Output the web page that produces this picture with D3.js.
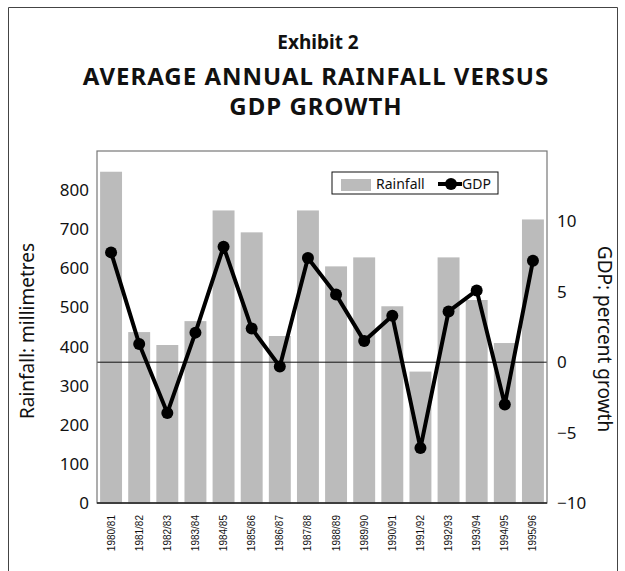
<!DOCTYPE html>
<html>
<head>
<meta charset="utf-8">
<script src="https://cdn.jsdelivr.net/npm/d3@7"></script>
<style>
  body { margin: 0; background: #fff; }
  text { font-family: "Noto Sans", "Open Sans", sans-serif; fill: #111; }
</style>
</head>
<body>
<svg id="chart" width="625" height="571"></svg>
<script>
// chart data
var years = ["1980/81", "1981/82", "1982/83", "1983/84", "1984/85", "1985/86", "1986/87", "1987/88",
    "1988/89", "1989/90", "1990/91", "1991/92", "1992/93", "1993/94", "1994/95", "1995/96"];
var rainfall = [847, 437, 404, 465, 748, 692, 427, 748, 605, 628, 503, 336, 628, 519, 409, 725];
var gdp = [7.8, 1.3, -3.6, 2.1, 8.2, 2.4, -0.3, 7.4, 4.8, 1.5, 3.3, -6.1, 3.6, 5.1, -3.0, 7.2];
var rainTicks = [0, 100, 200, 300, 400, 500, 600, 700, 800];
var gdpTicks = [-10, -5, 0, 5, 10];

var svg = d3.select("#chart");
// plot area edges (window.top is taken, so plotTop etc.)
var plotLeft = 97, plotRight = 547, plotTop = 151, plotBottom = 503;

// outer frame
svg.append("path")
    .attr("d", "M8.5,580 V7.5 H617.5 V580")
    .attr("fill", "none").attr("stroke", "#444").attr("stroke-width", 1);

// titles
svg.append("text").attr("x", 318).attr("y", 49).attr("text-anchor", "middle")
    .style("font-size", "19px").style("font-weight", "bold").text("Exhibit 2");
svg.append("text").attr("x", 316).attr("y", 85).attr("text-anchor", "middle")
    .style("font-size", "24px").style("font-weight", "bold").style("letter-spacing", "1px")
    .text("AVERAGE ANNUAL RAINFALL VERSUS");
svg.append("text").attr("x", 316).attr("y", 115).attr("text-anchor", "middle")
    .style("font-size", "24px").style("font-weight", "bold").style("letter-spacing", "1px")
    .text("GDP GROWTH");

// scales
var x = d3.scaleBand().domain(years).range([plotLeft, plotRight]).paddingInner(0.22).paddingOuter(0.11);
var yRain = d3.scaleLinear().domain([0, 900]).range([plotBottom, plotTop]);
var yGdp = d3.scaleLinear().domain([-10, 15]).range([plotBottom, plotTop]);

// bars
svg.selectAll(".bar").data(rainfall).enter().append("rect")
    .attr("class", "bar")
    .attr("x", (d, i) => x(years[i]))
    .attr("width", x.bandwidth())
    .attr("y", d => yRain(d))
    .attr("height", d => yRain(0) - yRain(d) + 1)
    .attr("fill", "#bbbbbb");

// zero line for gdp
svg.append("line")
    .attr("x1", plotLeft).attr("x2", plotRight)
    .attr("y1", yGdp(0)).attr("y2", yGdp(0))
    .attr("stroke", "#111").attr("stroke-width", 1);

// plot frame
svg.append("rect")
    .attr("x", plotLeft).attr("y", plotTop).attr("width", plotRight - plotLeft).attr("height", plotBottom - plotTop)
    .attr("fill", "none").attr("stroke", "#777").attr("stroke-width", 1.2);
svg.append("line").attr("x1", plotLeft).attr("x2", plotRight).attr("y1", plotBottom).attr("y2", plotBottom)
    .attr("stroke", "#222").attr("stroke-width", 1.5);

// gdp line
var line = d3.line()
    .x((d, i) => x(years[i]) + x.bandwidth() / 2)
    .y(d => yGdp(d));
svg.append("path").datum(gdp)
    .attr("d", line)
    .attr("fill", "none").attr("stroke", "#000").attr("stroke-width", 4)
    .attr("stroke-linejoin", "miter");
svg.selectAll(".dot").data(gdp).enter().append("circle")
    .attr("cx", (d, i) => x(years[i]) + x.bandwidth() / 2)
    .attr("cy", d => yGdp(d))
    .attr("r", 6).attr("fill", "#000");

// left axis
var axL = svg.append("g").attr("transform", "translate(" + plotLeft + ",0)")
    .call(d3.axisLeft(yRain).tickValues(rainTicks).tickSize(0).tickPadding(8));
axL.select(".domain").remove();
axL.selectAll("text").style("font-size", "17px").attr("fill", "#111");

// right axis
var axR = svg.append("g").attr("transform", "translate(" + plotRight + ",0)")
    .call(d3.axisRight(yGdp).tickValues(gdpTicks).tickSize(0).tickPadding(10));
axR.select(".domain").remove();
axR.selectAll("text").style("font-size", "17px").attr("fill", "#111");

// x axis labels
svg.selectAll(".xlab").data(years).enter().append("text")
    .attr("class", "xlab")
    .attr("transform", d => "translate(" + (x(d) + x.bandwidth() / 2 + 3.5) + "," + (plotBottom + 12) + ") rotate(-90)")
    .attr("text-anchor", "end")
    .style("font-size", "10px")
    .style("font-family", "'Liberation Sans', Arial, sans-serif")
    .text(d => d);

// axis titles
svg.append("text")
    .attr("transform", "translate(34," + 331 + ") rotate(-90)")
    .attr("text-anchor", "middle").style("font-size", "19px")
    .text("Rainfall: millimetres");
svg.append("text")
    .attr("transform", "translate(598," + 339 + ") rotate(90)")
    .attr("text-anchor", "middle").style("font-size", "19px")
    .text("GDP: percent growth");

// legend
var lg = svg.append("g");
lg.append("rect").attr("x", 332).attr("y", 172).attr("width", 166).attr("height", 22)
    .attr("fill", "#fff").attr("stroke", "#111").attr("stroke-width", 1);
lg.append("rect").attr("x", 341).attr("y", 179).attr("width", 30).attr("height", 12).attr("fill", "#bbbbbb");
lg.append("text").attr("x", 376).attr("y", 189).style("font-size", "14px").text("Rainfall");
lg.append("line").attr("x1", 438).attr("x2", 462).attr("y1", 184).attr("y2", 184)
    .attr("stroke", "#000").attr("stroke-width", 4);
lg.append("circle").attr("cx", 451).attr("cy", 184).attr("r", 6).attr("fill", "#000");
lg.append("text").attr("x", 462).attr("y", 189).style("font-size", "14px").text("GDP");
</script>
</body>
</html>
